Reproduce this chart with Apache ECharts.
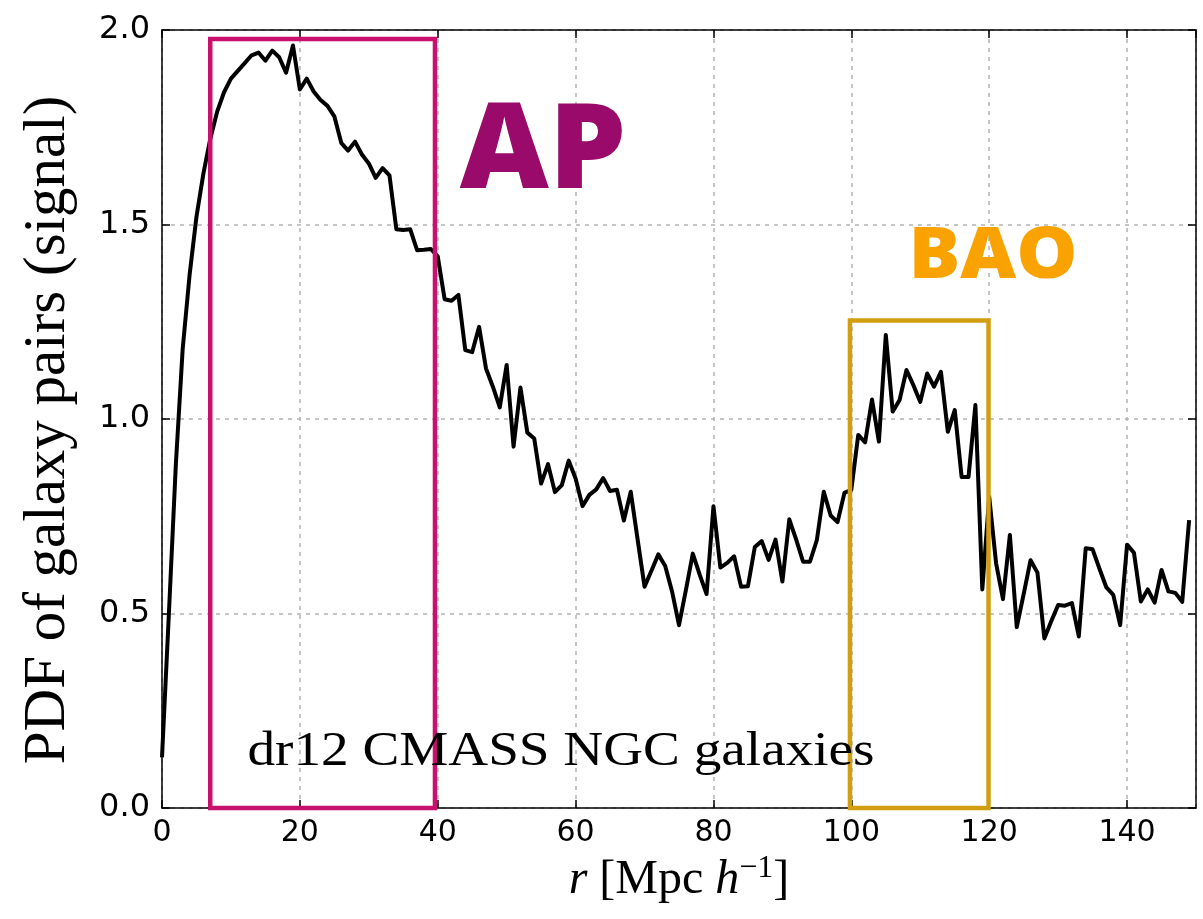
<!DOCTYPE html>
<html>
<head>
<meta charset="utf-8">
<script src="https://cdn.jsdelivr.net/npm/echarts@6/dist/echarts.min.js"></script>
<style>
  html, body { margin: 0; padding: 0; background: #fff; }
  #chart { width: 1203px; height: 919px; }
</style>
</head>
<body>
<div id="chart"></div>
<script>
// Pair separation bins, r in Mpc/h
const rBins = [
  0, 1, 2, 3, 4, 5, 6, 7, 8, 9, 10, 11, 12, 13, 14, 15, 16, 17, 18, 19,
  20, 21, 22, 23, 24, 25, 26, 27, 28, 29, 30, 31, 32, 33, 34, 35, 36, 37, 38, 39,
  40, 41, 42, 43, 44, 45, 46, 47, 48, 49, 50, 51, 52, 53, 54, 55, 56, 57, 58, 59,
  60, 61, 62, 63, 64, 65, 66, 67, 68, 69, 70, 71, 72, 73, 74, 75, 76, 77, 78, 79,
  80, 81, 82, 83, 84, 85, 86, 87, 88, 89, 90, 91, 92, 93, 94, 95, 96, 97, 98, 99,
  100, 101, 102, 103, 104, 105, 106, 107, 108, 109, 110, 111, 112, 113, 114, 115, 116, 117, 118, 119,
  120, 121, 122, 123, 124, 125, 126, 127, 128, 129, 130, 131, 132, 133, 134, 135, 136, 137, 138, 139,
  140, 141, 142, 143, 144, 145, 146, 147, 148, 149
];

// PDF of galaxy pairs (signal), one value per bin
const pdfSignal = [
  0.13, 0.50, 0.88, 1.18, 1.37, 1.52, 1.63, 1.72, 1.79, 1.84,
  1.875, 1.895, 1.915, 1.935, 1.942, 1.921, 1.947, 1.930, 1.890, 1.960,
  1.847, 1.875, 1.842, 1.820, 1.805, 1.778, 1.710, 1.690, 1.713, 1.680,
  1.657, 1.620, 1.645, 1.626, 1.488, 1.486, 1.488, 1.434, 1.435, 1.437,
  1.418, 1.308, 1.304, 1.319, 1.177, 1.172, 1.237, 1.130, 1.083, 1.030,
  1.139, 0.929, 1.081, 0.965, 0.950, 0.834, 0.884, 0.812, 0.830, 0.893,
  0.847, 0.776, 0.805, 0.819, 0.848, 0.815, 0.818, 0.739, 0.813, 0.690,
  0.569, 0.610, 0.652, 0.622, 0.556, 0.470, 0.560, 0.654, 0.600, 0.550,
  0.776, 0.618, 0.630, 0.647, 0.569, 0.570, 0.671, 0.686, 0.638, 0.690,
  0.582, 0.742, 0.690, 0.633, 0.633, 0.689, 0.813, 0.752, 0.735, 0.810,
  0.818, 0.959, 0.940, 1.050, 0.942, 1.216, 1.019, 1.049, 1.126, 1.087,
  1.044, 1.117, 1.083, 1.121, 0.967, 1.023, 0.851, 0.851, 1.036, 0.562,
  0.800, 0.629, 0.537, 0.702, 0.465, 0.550, 0.637, 0.605, 0.436, 0.480,
  0.522, 0.520, 0.527, 0.441, 0.668, 0.665, 0.615, 0.567, 0.548, 0.470,
  0.677, 0.656, 0.531, 0.562, 0.528, 0.612, 0.557, 0.553, 0.530, 0.740
];

const xTickLabels = ['0', '20', '40', '60', '80', '100', '120', '140'];
const yTickLabels = ['0.0', '0.5', '1.0', '1.5', '2.0'];

// Highlighted ranges: [r start, r end, top of box]
const apRange = [7.0, 39.6, 1.977];
const baoRange = [99.8, 119.9, 1.253];

const AP_BOX = '#c8106c';
const BAO_BOX = '#d19e12';

const chart = echarts.init(document.getElementById('chart'), null, { renderer: 'canvas' });

const tickFont = 'DejaVu Sans';
const serif = '"Liberation Serif", "DejaVu Serif", serif';

const gridLine = { show: true, lineStyle: { color: '#b3b3b3', width: 1.5, type: [4, 5] } };

function baseX(extra) {
  return Object.assign({
    type: 'value', min: 0, max: 150, interval: 20,
    axisLine: { show: true, onZero: false, lineStyle: { color: '#000', width: 1.5 } },
    axisTick: { show: true, inside: true, length: 8, lineStyle: { color: '#000', width: 1.5 } },
    splitLine: { show: false }
  }, extra);
}
function baseY(extra) {
  return Object.assign({
    type: 'value', min: 0, max: 2, interval: 0.5,
    axisLine: { show: true, onZero: false, lineStyle: { color: '#000', width: 1.5 } },
    axisTick: { show: true, inside: true, length: 8, lineStyle: { color: '#000', width: 1.5 } },
    splitLine: { show: false }
  }, extra);
}

const option = {
  backgroundColor: '#fff',
  animation: false,
  grid: { left: 162, right: 7, top: 30, bottom: 111, containLabel: false },
  xAxis: [
    baseX({
      position: 'bottom',
      splitLine: gridLine,
      axisLabel: {
        color: '#000', fontFamily: tickFont, fontSize: 30, margin: 10,
        showMaxLabel: false,
        formatter: v => { const i = Math.round(v / 20); return (Math.abs(v - i * 20) < 1e-6 && xTickLabels[i]) || ''; }
      },
      name: '{it|r} [Mpc {it|h}{sup|\u22121}]',
      nameLocation: 'middle',
      nameGap: 40,
      nameTextStyle: {
        color: '#000', fontFamily: serif, fontSize: 48, verticalAlign: 'top',
        rich: {
          it: { fontFamily: serif, fontSize: 48, fontStyle: 'italic', color: '#000' },
          sup: { fontFamily: serif, fontSize: 32, color: '#000', verticalAlign: 'top', padding: [0, 0, 22, 0] }
        }
      }
    }),
    baseX({ position: 'top', axisLabel: { show: false } })
  ],
  yAxis: [
    baseY({
      position: 'left',
      splitLine: gridLine,
      axisLabel: {
        color: '#000', fontFamily: tickFont, fontSize: 32, margin: 12,
        formatter: v => yTickLabels[Math.round(v / 0.5)] || ''
      },
      name: 'PDF of galaxy pairs (signal)',
      nameLocation: 'middle',
      nameGap: 84,
      nameTextStyle: { color: '#000', fontFamily: serif, fontSize: 59, padding: [0, 22, 0, 0] }
    }),
    baseY({ position: 'right', axisLabel: { show: false } })
  ],
  series: [
    {
      name: 'signal',
      type: 'line',
      xAxisIndex: 0, yAxisIndex: 0,
      data: rBins.map((r, i) => [r, pdfSignal[i]]),
      showSymbol: false,
      symbol: 'none',
      lineStyle: { color: '#000', width: 4, join: 'round' },
      z: 3
    },
    {
      name: 'ranges',
      type: 'custom',
      xAxisIndex: 0, yAxisIndex: 0,
      clip: false,
      z: 5,
      data: [
        [apRange[0], apRange[1], apRange[2], 0],
        [baoRange[0], baoRange[1], baoRange[2], 1]
      ],
      renderItem: (params, api) => {
        const p0 = api.coord([api.value(0), 0]);
        const p1 = api.coord([api.value(1), api.value(2)]);
        const color = api.value(3) === 0 ? AP_BOX : BAO_BOX;
        return {
          type: 'rect',
          shape: { x: p0[0], y: p1[1], width: p1[0] - p0[0], height: p0[1] - p1[1] },
          style: { fill: 'none', stroke: color, lineWidth: 4.5 }
        };
      }
    }
  ],
  graphic: [
    {
      type: 'text', x: 543, y: 154, z: 10, scaleX: 1.04,
      style: {
        text: 'AP', fill: '#990a6b', align: 'center', verticalAlign: 'middle',
        font: '800 118px "Open Sans", "Liberation Sans", sans-serif'
      }
    },
    {
      type: 'text', x: 993, y: 258, z: 10, scaleX: 1.1,
      style: {
        text: 'BAO', fill: '#f9a200', align: 'center', verticalAlign: 'middle',
        font: '800 70px "Open Sans", "Liberation Sans", sans-serif'
      }
    },
    {
      type: 'text', x: 561, y: 752, z: 10, scaleX: 1.15,
      style: {
        text: 'dr12 CMASS NGC galaxies', fill: '#000', align: 'center', verticalAlign: 'middle',
        font: '48px "Liberation Serif", "DejaVu Serif", serif'
      }
    }
  ]
};

chart.setOption(option);
</script>
</body>
</html>
